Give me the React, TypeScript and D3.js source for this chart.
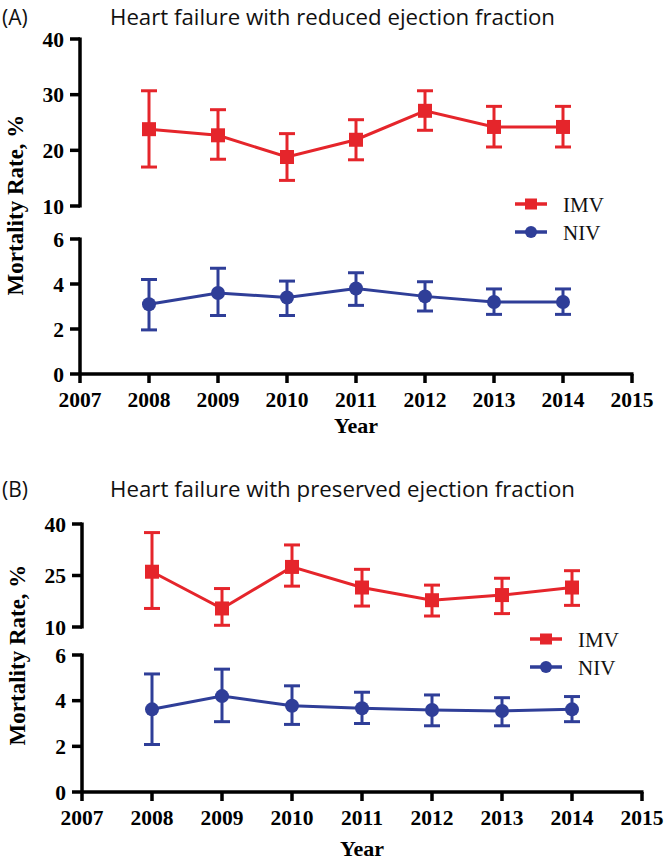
import React from "react";
import * as d3 from "d3";

const years = [2008, 2009, 2010, 2011, 2012, 2013, 2014];
const xTicks = [2007, 2008, 2009, 2010, 2011, 2012, 2013, 2014, 2015];

// Panel A – reduced ejection fraction
const imvA = [23.8, 22.7, 18.8, 21.9, 27.1, 24.2, 24.2];
const imvALow = [17.0, 18.4, 14.6, 18.3, 23.6, 20.6, 20.6];
const imvAHigh = [30.7, 27.3, 23.0, 25.5, 30.7, 27.9, 27.9];
const nivA = [3.1, 3.6, 3.4, 3.8, 3.45, 3.2, 3.2];
const nivALow = [1.96, 2.6, 2.6, 3.05, 2.8, 2.65, 2.65];
const nivAHigh = [4.2, 4.7, 4.13, 4.5, 4.1, 3.78, 3.78];
const topTicksA = [10, 20, 30, 40];

// Panel B – preserved ejection fraction
const imvB = [26.1, 15.4, 27.5, 21.5, 17.8, 19.3, 21.5];
const imvBLow = [15.4, 10.5, 21.9, 16.1, 13.2, 13.9, 16.3];
const imvBHigh = [37.5, 21.2, 33.9, 26.8, 22.2, 24.2, 26.4];
const nivB = [3.62, 4.2, 3.78, 3.67, 3.59, 3.55, 3.62];
const nivBLow = [2.08, 3.08, 2.96, 3.0, 2.9, 2.9, 3.08];
const nivBHigh = [5.17, 5.38, 4.65, 4.37, 4.25, 4.13, 4.18];
const topTicksB = [10, 25, 40];

const bottomTicks = [0, 2, 4, 6];
const seriesNames = ["IMV", "NIV"];

const RED = "#e5252b";
const BLUE = "#2f3e98";
const SERIF = "'Liberation Serif', 'Times New Roman', serif";
const SANS = "'Open Sans', 'Noto Sans', sans-serif";

type PanelProps = {
  letter: string;
  title: string;
  titleWidth: number;
  titleY: number;
  xRange: [number, number];
  topRange: [number, number];
  botRange: [number, number];
  topTicks: number[];
  imv: number[]; imvLow: number[]; imvHigh: number[];
  niv: number[]; nivLow: number[]; nivHigh: number[];
  legendX: number; legendY: number;
  yTitleX: number; yTitleY: number;
  yearY: number;
};

function Series({ x, y, vals, low, high, color, shape }: any) {
  const line = d3.line<number>().x((_, i) => x(years[i])).y((v) => y(v));
  const cap = 8;
  return (
    <g>
      <path d={line(vals) || ""} fill="none" stroke={color} strokeWidth={3} />
      {vals.map((v: number, i: number) => {
        const cx = x(years[i]);
        return (
          <g key={i} stroke={color} strokeWidth={3}>
            <line x1={cx} x2={cx} y1={y(low[i])} y2={y(high[i])} />
            <line x1={cx - cap} x2={cx + cap} y1={y(low[i])} y2={y(low[i])} />
            <line x1={cx - cap} x2={cx + cap} y1={y(high[i])} y2={y(high[i])} />
            {shape === "square" ? (
              <rect x={cx - 7} y={y(v) - 7} width={14} height={14} fill={color} stroke="none" />
            ) : (
              <circle cx={cx} cy={y(v)} r={7} fill={color} stroke="none" />
            )}
          </g>
        );
      })}
    </g>
  );
}

function Panel(p: PanelProps) {
  const x = d3.scaleLinear().domain([2007, 2015]).range(p.xRange);
  const yTop = d3.scaleLinear().domain([10, 40]).range(p.topRange);
  const yBot = d3.scaleLinear().domain([0, 6]).range(p.botRange);
  const x0 = p.xRange[0];
  const axisY = p.botRange[0];
  const tickFont = { fontFamily: SERIF, fontWeight: 700, fontSize: 21.5 } as const;
  return (
    <g>
      <text x={2} y={p.titleY} fontFamily={SANS} fontSize={21} fill="#111">({p.letter})</text>
      <text x={110} y={p.titleY} fontFamily={SANS} fontSize={21} fill="#111"
        textLength={p.titleWidth} lengthAdjust="spacingAndGlyphs">{p.title}</text>

      <g stroke="#000" strokeWidth={3.5}>
        <line x1={x0} x2={x0} y1={yTop(40) - 1.5} y2={yTop(10) + 1.5} />
        <line x1={x0} x2={x0} y1={yBot(6) - 1.5} y2={yBot(0)} />
        <line x1={x0} x2={p.xRange[1] + 1.5} y1={axisY} y2={axisY} />
        {p.topTicks.map((t) => (
          <line key={"tt" + t} x1={x0 - 10} x2={x0} y1={yTop(t)} y2={yTop(t)} />
        ))}
        {bottomTicks.map((t) => (
          <line key={"bt" + t} x1={x0 - 10} x2={x0} y1={yBot(t)} y2={yBot(t)} />
        ))}
        {xTicks.map((t) => (
          <line key={"xt" + t} x1={x(t)} x2={x(t)} y1={axisY} y2={axisY + 9} />
        ))}
      </g>
      {p.topTicks.map((t) => (
        <text key={"tl" + t} x={x0 - 16} y={yTop(t)} dy="0.36em" textAnchor="end" {...tickFont}>{t}</text>
      ))}
      {bottomTicks.map((t) => (
        <text key={"bl" + t} x={x0 - 16} y={yBot(t)} dy="0.36em" textAnchor="end" {...tickFont}>{t}</text>
      ))}
      {xTicks.map((t) => (
        <text key={"xl" + t} x={x(t)} y={axisY + 33} textAnchor="middle" {...tickFont}>{t}</text>
      ))}
      <text x={(p.xRange[0] + p.xRange[1]) / 2} y={p.yearY} textAnchor="middle"
        fontFamily={SERIF} fontWeight={700} fontSize={22}>Year</text>
      <text transform={`translate(${p.yTitleX},${p.yTitleY}) rotate(-90)`} textAnchor="middle"
        fontFamily={SERIF} fontWeight={700} fontSize={23}>Mortality Rate, %</text>

      <Series x={x} y={yTop} vals={p.imv} low={p.imvLow} high={p.imvHigh} color={RED} shape="square" />
      <Series x={x} y={yBot} vals={p.niv} low={p.nivLow} high={p.nivHigh} color={BLUE} shape="circle" />

      {seriesNames.map((name, i) => {
        const ly = p.legendY + i * 28;
        const color = i === 0 ? RED : BLUE;
        return (
          <g key={name}>
            <line x1={p.legendX} x2={p.legendX + 32} y1={ly} y2={ly} stroke={color} strokeWidth={3.5} />
            {i === 0 ? (
              <rect x={p.legendX + 10} y={ly - 5.5} width={12} height={11} fill={color} />
            ) : (
              <circle cx={p.legendX + 16} cy={ly} r={6} fill={color} />
            )}
            <text x={p.legendX + 48} y={ly} dy="0.36em" fontFamily={SERIF} fontSize={21} fill="#111">{name}</text>
          </g>
        );
      })}
    </g>
  );
}

export default function App() {
  return (
    <svg width={669} height={860} style={{ position: "absolute", left: 0, top: 0, background: "#fff" }}>
      <rect width={669} height={860} fill="#fff" />
      <Panel letter="A" title="Heart failure with reduced ejection fraction" titleWidth={445} titleY={25}
        xRange={[80, 632]} topRange={[206, 39]} botRange={[374, 239]} topTicks={topTicksA}
        imv={imvA} imvLow={imvALow} imvHigh={imvAHigh} niv={nivA} nivLow={nivALow} nivHigh={nivAHigh}
        legendX={515} legendY={204} yTitleX={23} yTitleY={205} yearY={433} />
      <Panel letter="B" title="Heart failure with preserved ejection fraction" titleWidth={465} titleY={497}
        xRange={[82, 642]} topRange={[627, 524]} botRange={[792, 655]} topTicks={topTicksB}
        imv={imvB} imvLow={imvBLow} imvHigh={imvBHigh} niv={nivB} nivLow={nivBLow} nivHigh={nivBHigh}
        legendX={530} legendY={639} yTitleX={25} yTitleY={655} yearY={856} />
    </svg>
  );
}
